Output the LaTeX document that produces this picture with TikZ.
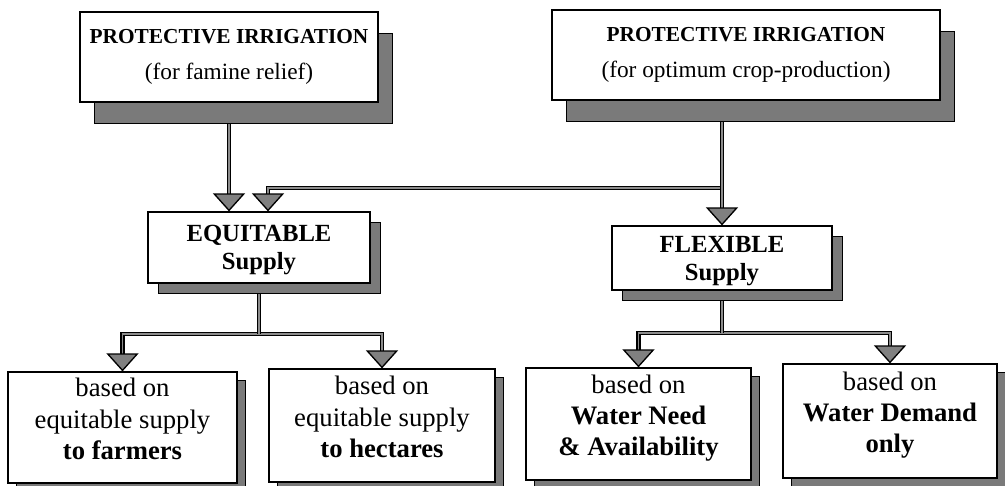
\documentclass[tikz,border=0pt]{standalone}
\usepackage{fontspec}
\setmainfont{Liberation Serif}
\usetikzlibrary{arrows.meta,shadows,backgrounds}

\tikzset{every picture/.style={line width=0.75pt}}
\tikzset{
  box/.style={draw, fill=white, line width=0.9pt, align=center, inner sep=0pt},
  shadowbig/.style={general shadow={draw=black, line width=0.6pt, fill=black!52, shadow xshift=10.5pt, shadow yshift=-16pt}},
  shadowmid/.style={general shadow={draw=black, line width=0.6pt, fill=black!52, shadow xshift=7.5pt, shadow yshift=-7.5pt}},
  shadowlow/.style={general shadow={draw=black, line width=0.6pt, fill=black!52, shadow xshift=6pt, shadow yshift=-6pt}},
  topfont/.style={font=\fontsize{17.5}{27}\selectfont},
  midfont/.style={font=\fontsize{18.5}{21}\selectfont\bfseries, text depth=0pt},
  lowfont/.style={font=\fontsize{20}{23.5}\selectfont, text depth=13pt},
  flow/.style={draw=black, line width=1.05pt, double=black!45, double distance=1.3pt},
  tip/.style={-{Triangle[width=24pt,length=13.5pt,fill=black!50,line width=1pt]}},
  tips/.style={{Triangle[width=24pt,length=13.5pt,fill=black!50,line width=1pt]}-{Triangle[width=24pt,length=13.5pt,fill=black!50,line width=1pt]}},
}

\begin{document}
\begin{tikzpicture}[x=0.75pt,y=0.75pt,yscale=-1,xscale=1]
\useasboundingbox (0,0) rectangle (1005,485);

%Top boxes
\node (tl) at (229,57) [box, shadowbig, topfont, minimum width=223.5pt, minimum height=67.5pt] {{\fontsize{16}{27}\selectfont\bfseries PROTECTIVE IRRIGATION}\\(for famine relief)};
\node (tr) at (746,55) [box, shadowbig, topfont, minimum width=291pt, minimum height=67.5pt] {{\fontsize{16}{27}\selectfont\bfseries PROTECTIVE IRRIGATION}\\(for optimum crop-production)};

%Supply boxes
\node (eq) at (259,247.5) [box, shadowmid, midfont, minimum width=166.5pt, minimum height=53.25pt] {EQUITABLE\\Supply};
\node (fl) at (722,258) [box, shadowmid, midfont, minimum width=165pt, minimum height=48pt] {FLEXIBLE\\Supply};

%Bottom boxes
\node (b1) at (122.5,427.5) [box, shadowlow, lowfont, minimum width=171.75pt, minimum height=83.25pt] {based on\\equitable supply\\\textbf{to farmers}};
\node (b2) at (382,425.5) [box, shadowlow, lowfont, minimum width=169.5pt, minimum height=84.75pt] {based on\\equitable supply\\\textbf{to hectares}};
\node (b3) at (638.5,424) [box, shadowlow, lowfont, minimum width=168.75pt, minimum height=84pt] {based on\\\textbf{Water Need}\\\textbf{\& Availability}};
\node (b4) at (890,421) [box, shadowlow, lowfont, minimum width=160.5pt, minimum height=85.5pt] {based on\\\textbf{Water Demand}\\\textbf{only}};

%Junctions
\coordinate (jn) at (fl.north |- 0,188);
\coordinate (ej) at (eq.south |- 0,334);
\coordinate (fj) at (fl.south |- 0,333);

%Connectors
\begin{scope}[on background layer]
\draw[flow, tip] (tl.south) -- (tl.south |- eq.north);
\draw[flow, tip] (jn) -| ([xshift=6.75pt]eq.north);
\draw[flow, tip] (fl.north |- tr.south) -- (fl.north);
\draw[flow, tips] (b1.north) |- (ej) -| (b2.north);
\draw[flow] (eq.south) -- (ej);
\draw[flow, tips] (b3.north) |- (fj) -| (b4.north);
\draw[flow] (fl.south) -- (fj);
\end{scope}

\end{tikzpicture}
\end{document}
